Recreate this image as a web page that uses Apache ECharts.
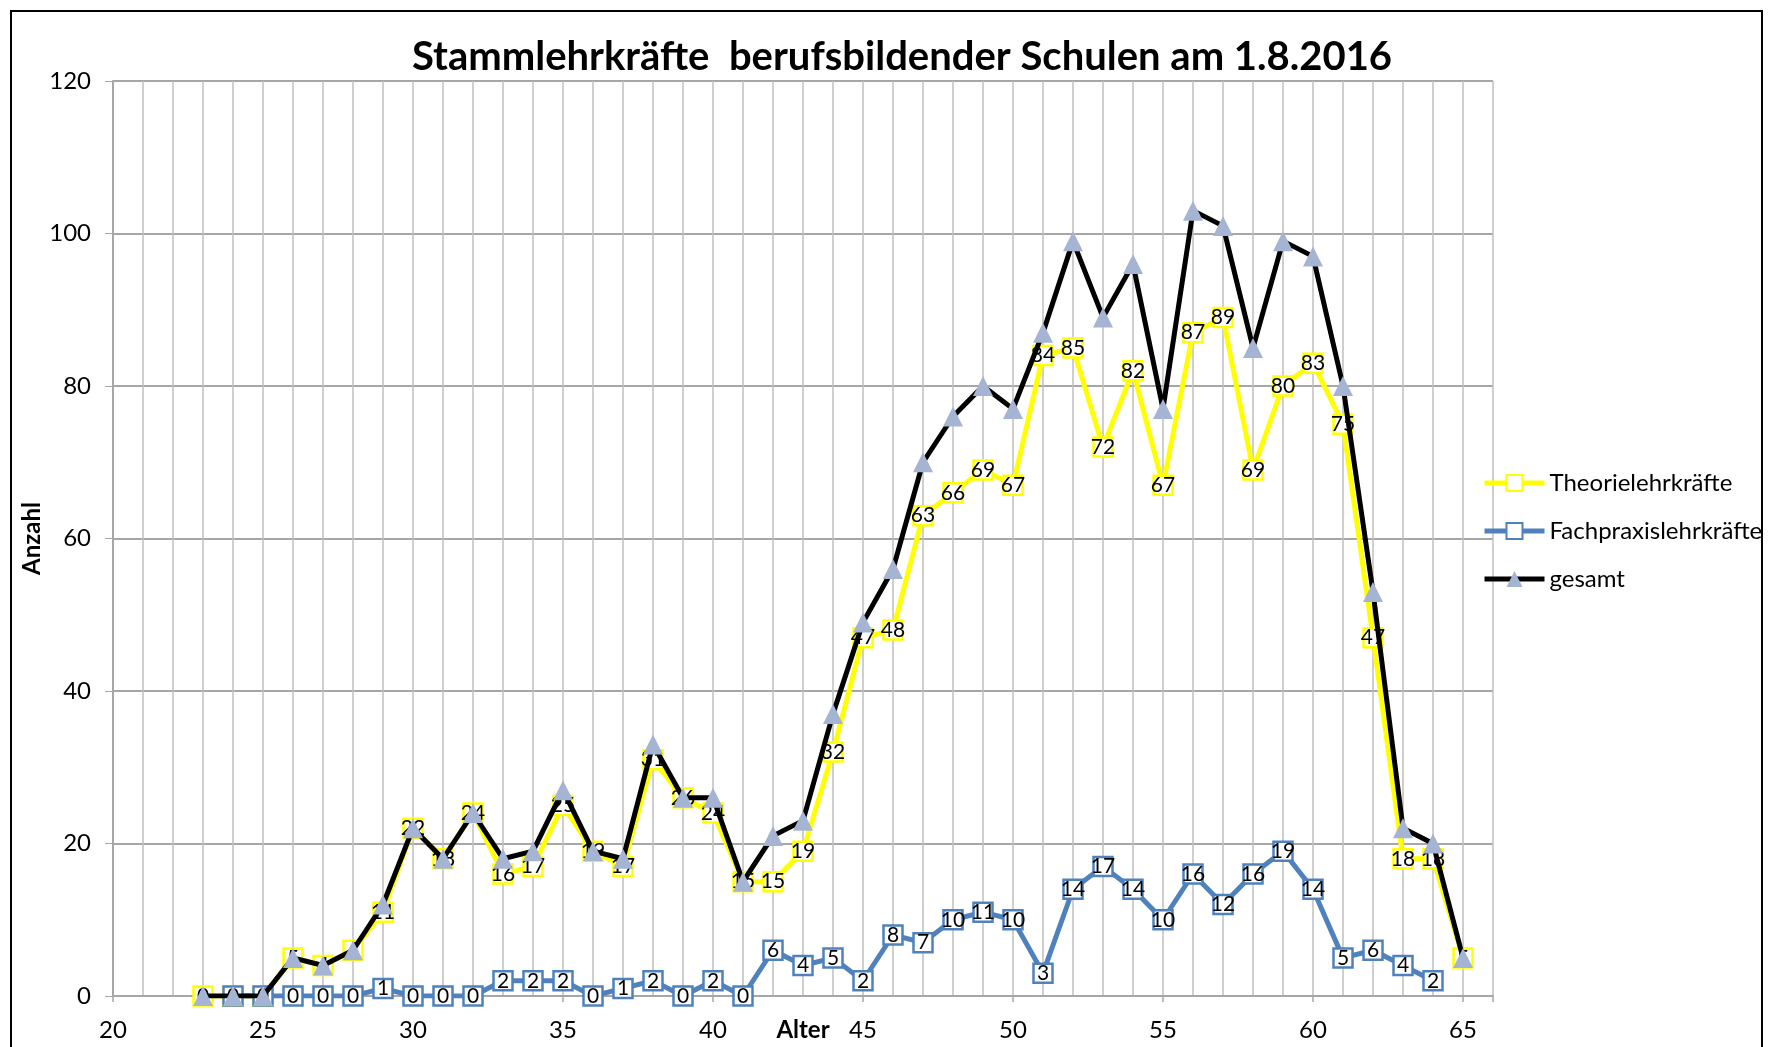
<!DOCTYPE html>
<html><head><meta charset="utf-8">
<script src="https://cdn.jsdelivr.net/npm/echarts@6/dist/echarts.min.js"></script>
<style>html,body{margin:0;padding:0;background:#fff}#c{width:1771px;height:1047px}</style>
</head><body><div id="c"></div>
<script>
const ages = [23,24,25,26,27,28,29,30,31,32,33,34,35,36,37,38,39,40,41,42,43,44,45,46,47,48,49,50,51,52,53,54,55,56,57,58,59,60,61,62,63,64,65];
const theorie = [0,0,0,5,4,6,11,22,18,24,16,17,25,19,17,31,26,24,15,15,19,32,47,48,63,66,69,67,84,85,72,82,67,87,89,69,80,83,75,47,18,18,5];
const fachpraxis = [null,0,0,0,0,0,1,0,0,0,2,2,2,0,1,2,0,2,0,6,4,5,2,8,7,10,11,10,3,14,17,14,10,16,12,16,19,14,5,6,4,2,null];
const gesamt = [0,0,0,5,4,6,12,22,18,24,18,19,27,19,18,33,26,26,15,21,23,37,49,56,70,76,80,77,87,99,89,96,77,103,101,85,99,97,80,53,22,20,5];
const seriesNames = ['Theorielehrkräfte','Fachpraxislehrkräfte','gesamt'];
const yTicks = [0,20,40,60,80,100,120];

const FONT = 'Lato, "Liberation Sans", sans-serif';
const pair = arr => ages.map((a,i)=>[a, arr[i]]);
const lbl = {show:true, position:'inside', color:'#000', fontSize:21, fontFamily:FONT};

const chart = echarts.init(document.getElementById('c'), null, {renderer:'canvas'});
chart.setOption({
  animation:false,
  backgroundColor:'#fff',
  title:{text:'Stammlehrkräfte  berufsbildender Schulen am 1.8.2016', left:897, top:32, textAlign:'center',
    textStyle:{fontFamily:FONT, fontWeight:'bold', fontSize:40, color:'#000'}},
  graphic:[{type:'rect', shape:{x:11,y:11,width:1751,height:1100}, style:{fill:'none', stroke:'#000', lineWidth:2}, silent:true}],
  legend:{orient:'vertical', left:1477, top:466, itemWidth:60, itemHeight:20, itemGap:24,
    lineStyle:{width:5},
    textStyle:{fontFamily:FONT, fontSize:24, color:'#000'}, data:seriesNames},
  grid:{left:113, right:278, top:81, bottom:51, containLabel:false, outerBoundsMode:'none'},
  xAxis:[{type:'value', min:20, max:66, interval:1, name:'Alter', nameLocation:'middle', nameGap:22, nameMoveOverlap:false,
      nameTextStyle:{fontFamily:FONT, fontWeight:'bold', fontSize:24, color:'#000'},
      axisLine:{show:true, onZero:false, lineStyle:{color:'#a6a6a6', width:2}},
      axisTick:{show:false},
      axisLabel:{fontFamily:FONT, fontSize:24, color:'#000', margin:22, formatter:v=> (v%5===0 && v<=65)? String(v):''},
      splitLine:{show:true, lineStyle:{color:'#bfbfbf', width:1.5}}},
    {type:'value', min:20, max:66, interval:5, position:'bottom', axisLine:{show:false},
      axisTick:{show:true, length:6, inside:false, lineStyle:{color:'#a6a6a6', width:1.5}},
      axisLabel:{show:false}, splitLine:{show:false}}],
  yAxis:{type:'value', min:0, max:120, interval:20, name:'Anzahl', nameLocation:'middle', nameGap:69, nameRotate:90, nameMoveOverlap:false,
    nameTextStyle:{fontFamily:FONT, fontWeight:'bold', fontSize:24, color:'#000'},
    axisLine:{show:true, lineStyle:{color:'#a6a6a6', width:2}},
    axisTick:{show:true, length:8, lineStyle:{color:'#a6a6a6'}},
    axisLabel:{fontFamily:FONT, fontSize:24, color:'#000', margin:22, formatter:v=> yTicks.includes(v)? String(v):''},
    splitLine:{show:true, lineStyle:{color:'#a6a6a6', width:2}}},
  series:[
    {name:seriesNames[0], type:'line', data:pair(theorie), symbol:'rect', symbolSize:19,
      lineStyle:{color:'#ffff00', width:5}, itemStyle:{color:'#ffffff', borderColor:'#ffff00', borderWidth:2.5},
      label:lbl, labelLayout:{hideOverlap:false}, z:2},
    {name:seriesNames[1], type:'line', data:pair(fachpraxis), symbol:'rect', symbolSize:19, connectNulls:false,
      lineStyle:{color:'#4f81bd', width:5}, itemStyle:{color:'#ffffff', borderColor:'#4f81bd', borderWidth:2.5},
      label:lbl, z:3},
    {name:seriesNames[2], type:'line', data:pair(gesamt), symbol:'triangle', symbolSize:20,
      lineStyle:{color:'#000000', width:5}, itemStyle:{color:'#a5b4d2', borderWidth:0},
      label:{show:false}, z:4}
  ]
});
</script></body></html>
